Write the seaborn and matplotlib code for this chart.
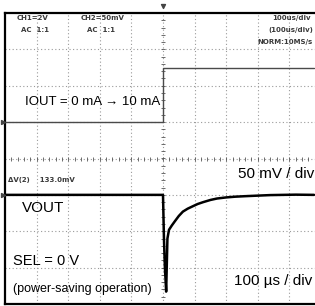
import numpy as np
import pandas as pd
import matplotlib
matplotlib.use("Agg")
import matplotlib.pyplot as plt
import seaborn as sns

# --------------------------
# Data read off the scope shot (time in us, 0 = trigger)
# the picture is cut off at about 478 us
# --------------------------
iout_t = [-500, 0, 478]
iout_ma = [0, 10, 10]

vout_t = [-500, -250, 0, 3, 6, 10, 14, 19, 28, 38, 50, 63, 78, 95, 110, 127, 150, 171,
          200, 228, 260, 291, 339, 420, 478]
vout_mv = [0, 0, 0, -60, -100, -133, -60, -48, -42, -36, -29, -23, -19, -15.5, -12.5,
           -10, -7, -5, -3.5, -2.5, -1.8, -1.2, -0.3, 0.3, 0]

# scope settings
us_per_div = 100
mv_per_div = 50
ma_per_div = 10 / 1.5
iout_offset = 1.0    # divisions above centre
vout_offset = -1.0   # divisions below centre

sns.set_theme(style="white")
plt.rcParams['font.family'] = ['Liberation Sans', 'DejaVu Sans']

df_i = pd.DataFrame({"x": np.array(iout_t) / us_per_div + 5,
                     "y": np.array(iout_ma) / ma_per_div + iout_offset})
df_v = pd.DataFrame({"x": np.array(vout_t) / us_per_div + 5,
                     "y": np.array(vout_mv) / mv_per_div + vout_offset})

# graticule is 10 x 8 divisions, right edge of the screen is cut off
fig = plt.figure(figsize=(3.15, 3.06), dpi=100)
ax = fig.add_axes([5 / 315, 2 / 306, 316 / 315, 291 / 306])
ax.set_xlim(0, 10)
ax.set_ylim(-4, 4)
ax.set_xticks([])
ax.set_yticks([])

grid_kw = dict(color="#9a9a9a", lw=0.8, ls=(0, (1, 2.2)), zorder=1)
for gx in range(1, 10):
    ax.axvline(gx, **grid_kw)
for gy in range(-3, 4):
    ax.axhline(gy, **grid_kw)

# minor ticks along the centre axes
minor_x = np.arange(0, 9.81, 0.2)
minor_y = np.arange(-4, 4.01, 0.2)
ax.scatter(minor_x, np.zeros_like(minor_x), marker="|", s=10, color="#555555", lw=0.6, zorder=2)
ax.scatter(np.full_like(minor_y, 5), minor_y, marker="_", s=10, color="#555555", lw=0.6, zorder=2)

# traces
sns.lineplot(data=df_i, x="x", y="y", ax=ax, color="#4a4a4a", lw=1.0,
             drawstyle="steps-post", estimator=None, sort=False, zorder=3)
sns.lineplot(data=df_v, x="x", y="y", ax=ax, color="black", lw=1.8,
             estimator=None, sort=False, zorder=4)
ax.set_xlim(0, 10)
ax.set_ylim(-4, 4)

for sp in ["left", "top", "bottom"]:
    ax.spines[sp].set_color("black")
    ax.spines[sp].set_linewidth(1.6)
ax.spines["right"].set_visible(False)
ax.set_xlabel("")
ax.set_ylabel("")

# channel markers
ax.scatter([-0.05, -0.05], [iout_offset, vout_offset], marker=">", s=8,
           color="#444444", clip_on=False, zorder=5)
ax.scatter([5], [4.2], marker="v", s=8, color="#444444", clip_on=False, zorder=5)

# scope readouts
small = dict(fontsize=5, color="#3a3a3a", fontweight="bold", family="DejaVu Sans")
ax.text(0.87, 3.85, "CH1=2V", ha="center", va="center", **small)
ax.text(0.95, 3.52, "AC  1:1", ha="center", va="center", **small)
ax.text(3.1, 3.85, "CH2=50mV", ha="center", va="center", **small)
ax.text(3.05, 3.52, "AC  1:1", ha="center", va="center", **small)
ax.text(9.67, 3.85, "100us/div", ha="right", va="center", **small)
ax.text(9.75, 3.52, "(100us/div)", ha="right", va="center", **small)
ax.text(9.75, 3.2, "NORM:10MS/s", ha="right", va="center", **small)
ax.text(0.1, -0.6, "\u0394V(2)    133.0mV", ha="left", va="center", **small)

# annotations
ax.text(0.63, 1.54, "IOUT = 0 mA \u2192 10 mA", ha="left", va="center", fontsize=9.5, color="black")
ax.text(9.8, -0.42, "50 mV / div", ha="right", va="center", fontsize=11, color="black")
ax.text(0.55, -1.35, "VOUT", ha="left", va="center", fontsize=11, color="black")
ax.text(0.25, -2.83, "SEL = 0 V", ha="left", va="center", fontsize=10.5, color="black")
ax.text(0.25, -3.58, "(power-saving operation)", ha="left", va="center", fontsize=9, color="black")
ax.text(9.72, -3.38, "100 \u00b5s / div", ha="right", va="center", fontsize=11, color="black")

fig.savefig("out.png", dpi=100)
